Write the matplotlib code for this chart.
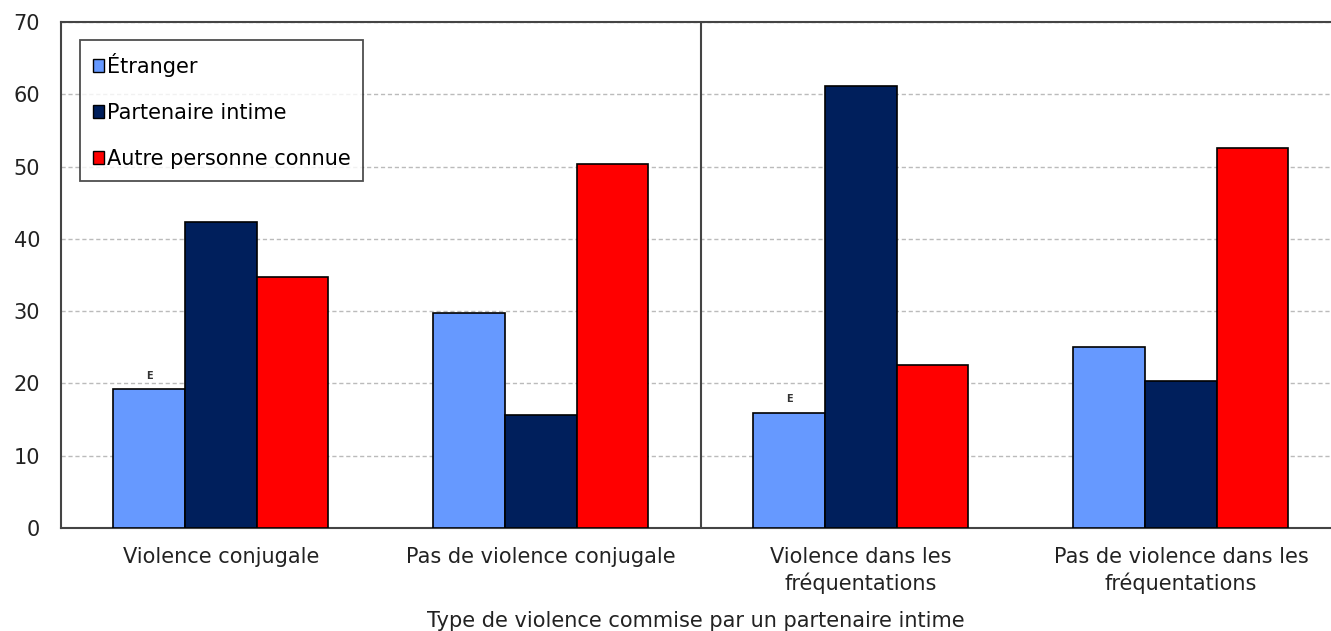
import matplotlib.pyplot as plt
import numpy as np
from matplotlib.patches import Patch

categories = ["Violence conjugale", "Pas de violence conjugale",
              "Violence dans les\nfréquentations", "Pas de violence dans les\nfréquentations"]
series = ["Étranger", "Partenaire intime", "Autre personne connue"]
etranger = [19.2, 29.7, 15.9, 25.0]
partenaire = [42.4, 15.6, 61.1, 20.3]
autre = [34.7, 50.4, 22.5, 52.6]
flags = ["E", "", "E", ""]
colors = ["#6699ff", "#001f5c", "#ff0000"]

fs = 15
fig = plt.figure(figsize=(13.31, 6.31), dpi=100)
ax = fig.add_axes([0.0458, 0.1632, 0.9542, 0.8019])

x = np.arange(len(categories))
w = 0.224
for k, vals in enumerate([etranger, partenaire, autre]):
    ax.bar(x + (k - 1) * w, vals, w, color=colors[k], edgecolor="black",
           linewidth=1.2, zorder=3)

for i, f in enumerate(flags):
    if f:
        ax.text(x[i] - w, etranger[i] + 1.2, f, ha="center", va="bottom",
                fontsize=7, fontweight="bold", color="#333333")

# separation between the two groups
ax.axvline(1.5, color="#444444", linewidth=1.5, zorder=4)

ax.set_ylim(0, 70)
ax.set_xlim(-0.5, 3.469)
ax.set_yticks(range(0, 71, 10))
ax.yaxis.grid(True, linestyle=(0, (3, 2)), color="#bbbbbb", linewidth=1)
ax.set_axisbelow(True)
ax.tick_params(length=0, labelsize=fs, colors="#222222")
ax.tick_params(axis="y", pad=15)
ax.tick_params(axis="x", pad=14)
ax.set_xticks(x)
ax.set_xticklabels(categories, fontsize=fs, linespacing=1.3)
ax.set_xlabel("Type de violence commise par un partenaire intime", fontsize=fs,
              labelpad=12, color="#222222")

for s in ["left", "top", "bottom"]:
    ax.spines[s].set_color("#444444")
    ax.spines[s].set_linewidth(1.5)
ax.spines["right"].set_visible(False)

handles = [Patch(facecolor=c, edgecolor="black") for c in colors]
leg = ax.legend(handles, series, loc="upper left", bbox_to_anchor=(0.015, 0.964),
                fontsize=fs, frameon=True, fancybox=False, edgecolor="#222222",
                handlelength=0.55, handleheight=0.55, handletextpad=0.15,
                labelspacing=1.25, borderpad=0.6, borderaxespad=0)
leg.get_frame().set_linewidth(1.3)

fig.savefig("out.png", dpi=100)
